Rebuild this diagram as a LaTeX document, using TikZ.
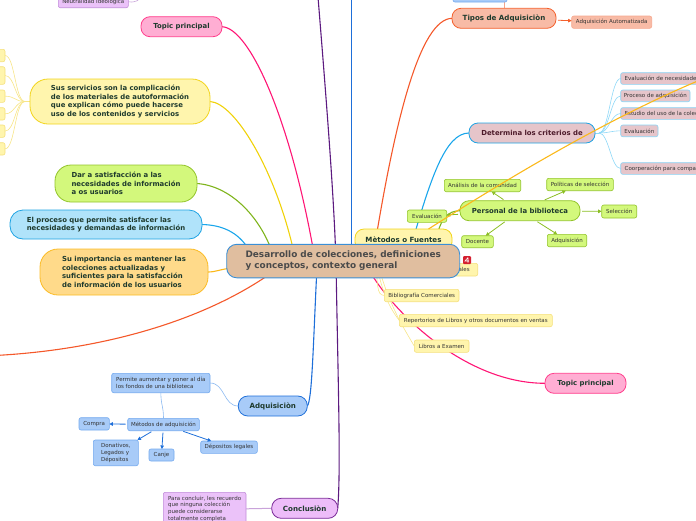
\documentclass[tikz,border=0pt]{standalone}
\usepackage{fontspec}
\setmainfont{DejaVu Sans}
\usetikzlibrary{arrows.meta,calc,backgrounds}
\definecolor{txt}{HTML}{1E3A2D}
\definecolor{smtxt}{HTML}{333333}
\definecolor{maroon}{HTML}{4D1A2A}
\definecolor{centtxt}{HTML}{4A4A4A}
\definecolor{purln}{HTML}{5C1A80}
\definecolor{blueln}{HTML}{1E6FD9}
\definecolor{redln}{HTML}{F4582A}
\definecolor{pinkln}{HTML}{FF1675}
\definecolor{yelln}{HTML}{F0D20A}
\definecolor{greenln}{HTML}{7FB41C}
\definecolor{lblueln}{HTML}{1AA6EB}
\definecolor{orln}{HTML}{FBB81A}
\definecolor{pinkfill}{HTML}{FFAED3}
\definecolor{yelfill}{HTML}{FFF5AD}
\definecolor{greenfill}{HTML}{D3F87C}
\definecolor{lbluefill}{HTML}{B0E3FA}
\definecolor{orfill}{HTML}{FFDA8A}
\definecolor{tanfill}{HTML}{E0BE9F}
\definecolor{salfill}{HTML}{F8BBA6}
\definecolor{rosefill}{HTML}{E6C5CA}
\definecolor{bluefill}{HTML}{A8CBF8}
\definecolor{purfill}{HTML}{EBC2F9}
\definecolor{purfilltwo}{HTML}{EDBDF9}
\definecolor{pinkbd}{HTML}{FF3D8B}
\definecolor{yelbd}{HTML}{F2D41C}
\definecolor{yelsmbd}{HTML}{F5E07C}
\definecolor{greenbd}{HTML}{93C42B}
\definecolor{lbluebd}{HTML}{1EA3E3}
\definecolor{orbd}{HTML}{FBBB24}
\definecolor{centbd}{HTML}{3A8FD6}
\definecolor{salbd}{HTML}{F4602C}
\definecolor{salsmbd}{HTML}{F6A88E}
\definecolor{rosebd}{HTML}{8AD4F5}
\definecolor{bluebd}{HTML}{1E6FD9}
\definecolor{bluesmbd}{HTML}{73A9EE}
\definecolor{purbd}{HTML}{7B2B99}
\definecolor{purbdsm}{HTML}{C18CD9}
\definecolor{yelthin}{HTML}{F7E588}
\definecolor{rosethin}{HTML}{8FD8F7}
\definecolor{bluethin}{HTML}{8CBAF1}
\definecolor{purthin}{HTML}{C9A3DA}
\definecolor{salthin}{HTML}{F5A58C}
\definecolor{greenarr}{HTML}{8BBE23}
\definecolor{iconred}{HTML}{D42030}
\begin{document}
\begin{tikzpicture}[x=1pt,y=-1pt,
  every node/.style={inner sep=0pt, outer sep=0pt},
  big/.style={draw, line width=0.8pt, font=\bfseries\fontsize{6.9}{8.4}\selectfont, text=txt, anchor=north west, align=left},
  bigger/.style={font=\bfseries\fontsize{7.1}{8.4}\selectfont},
  sm/.style={draw, line width=0.6pt, rounded corners=2pt, font=\fontsize{5.5}{6.8}\selectfont, text=smtxt, anchor=north west, align=left},
  mainln/.style={line width=1.1pt},
  thinln/.style={line width=0.6pt},
  arr/.style={-{Triangle[length=3.5pt,width=3.5pt]}, line width=0.8pt, shorten <=2pt},
]
\useasboundingbox (0,0) rectangle (696,520);

% ---------- nodes ----------
\node[sm, fill=purfill, draw=purbdsm, minimum width=70, minimum height=12] (neutral) at (58.3,-4.3) {Neutralidad Ideologica};
\node[big, fill=pinkfill, draw=pinkbd, rounded corners=9pt, minimum width=81, minimum height=20] (topic1) at (141,16.7) {Topic principal};
\node[big, fill=yelfill, draw=yelbd, rounded corners=18pt, minimum width=180, minimum height=45] (servicios) at (30,79) {Sus servicios son la complicación\\de los materiales de autoformación\\que explican cómo puede hacerse\\uso de los contenidos y servicios};
\foreach \i/\y/\h in {1/49.3/12.4,2/66.7/17.6,3/90/12.3,4/107.7/12.3,5/125/12.3,6/142.7/12.3}
  \node[sm, fill=yelfill, draw=yelsmbd, minimum width=35, minimum height=\h] (ly\i) at (-30,\y) {};
\node[big, fill=greenfill, draw=greenbd, rounded corners=16pt, minimum width=142, minimum height=37] (dar) at (55,165) {Dar a satisfacción a las\\necesidades de información\\a os usuarios};
\node[big, fill=lbluefill, draw=lbluebd, rounded corners=13pt, minimum width=192, minimum height=29] (proceso) at (10,210) {El proceso que permite satisfacer las\\necesidades y demandas de información};
\node[big, fill=orfill, draw=orbd, rounded corners=18pt, minimum width=168, minimum height=46] (importancia) at (40,249) {Su importancia es mantener las\\colecciones actualizadas y\\suficientes para la satisfacción\\de información de los usuarios};

\node[sm, fill=bluefill, draw=bluesmbd, minimum width=54, minimum height=12] (topblue) at (453,-10) {};
\node[big, bigger, fill=salfill, draw=salbd, rounded corners=9pt, minimum width=104, minimum height=20] (tipos) at (452,8.3) {Tipos de Adquisiciòn};
\node[sm, fill=salfill, draw=salsmbd, minimum width=80, minimum height=12.3] (autom) at (571.7,16) {Adquisición Automatizada};

\node[big, fill=rosefill, draw=lbluebd, rounded corners=9pt, minimum width=126, minimum height=20, text=maroon] (determina) at (469,123) {Determina los criterios de};
\node[sm, fill=rosefill, draw=rosebd, inner xsep=4pt, minimum height=11.6] (evnec) at (620.7,72.7) {Evaluación de necesidades};
\node[sm, fill=rosefill, draw=rosebd, minimum width=69.3, minimum height=11.7] (proc) at (620.7,90) {Proceso de adquisición};
\node[sm, fill=rosefill, draw=rosebd, inner xsep=4pt, minimum height=11.6] (estudio) at (620.7,107.7) {Estudio del uso de la colección};
\node[sm, fill=rosefill, draw=rosebd, minimum width=37.3, minimum height=11.7] (eval2) at (620.7,125) {Evaluación};
\node[sm, fill=rosefill, draw=rosebd, inner xsep=4pt, minimum height=11.6] (coop) at (620.7,162.7) {Coorperación para compartir};

\node[big, bigger, fill=yelfill, draw=yelbd, rounded corners=9pt, minimum width=97, minimum height=22] (metodos) at (355,229) {Mètodos o Fuentes};
\node[big, fill=greenfill, draw=greenbd, rounded corners=9pt, minimum width=120, minimum height=20] (personal) at (460,200.7) {Personal de la biblioteca};
\node[sm, fill=greenfill, draw=greenbd, minimum width=76.4, minimum height=12.4] (analisis) at (444.3,179.3) {Análisis de la comunidad};
\node[sm, fill=greenfill, draw=greenbd, minimum width=66.6, minimum height=12.4] (politicas) at (546.7,178.3) {Políticas de selección};
\node[sm, fill=greenfill, draw=greenbd, minimum width=35, minimum height=13] (seleccion) at (601.7,205) {Selección};
\node[sm, fill=greenfill, draw=greenbd, minimum width=39.4, minimum height=12.4] (adqtwo) at (547.3,234.3) {Adquisición};
\node[sm, fill=greenfill, draw=greenbd, minimum width=31.6, minimum height=12] (docente) at (461.7,235.7) {Docente};
\node[sm, fill=greenfill, draw=greenbd, minimum width=39.4, minimum height=12.3] (evalthree) at (407.3,210) {Evaluación};

\node[sm, fill=yelfill, draw=yelsmbd, anchor=north east, inner xsep=8pt, minimum height=12.7] (nales) at (477.7,263.3) {Bibliografías Nacionales};
\node[fill=iconred, minimum size=8pt, rounded corners=1pt, anchor=north west] (icon) at (463,256) {};
\draw[white, line width=0.6pt] ($(icon.center)+(1,-2.5)$) -- ($(icon.center)+(-2,1)$) -- ($(icon.center)+(2,1)$) ($(icon.center)+(1,-2.5)$) -- ($(icon.center)+(1,2.5)$);

\node[big, fill=tanfill, draw=centbd, rounded corners=10pt, minimum width=233, minimum height=33.5, font=\bfseries\fontsize{8.9}{11}\selectfont, text=centtxt, line width=0.9pt] (central) at (226.7,244.3) {Desarrollo de colecciones, definiciones\\y conceptos, contexto general};

\node[sm, fill=yelfill, draw=yelsmbd, minimum width=74.7, minimum height=12.4] (bibcom) at (384.3,289.3) {Bibliografía Comerciales};
\node[sm, fill=yelfill, draw=yelsmbd, minimum width=153, minimum height=12.4] (repert) at (399.3,314.3) {Repertorios de Libros y otros documentos en ventas};
\node[sm, fill=yelfill, draw=yelsmbd, minimum width=54.7, minimum height=12.3] (libros) at (414.3,340) {Libros a Examen};

\node[big, fill=pinkfill, draw=pinkbd, rounded corners=9pt, minimum width=81, minimum height=20] (topic2) at (545,373.3) {Topic principal};

\node[big, bigger, fill=bluefill, draw=bluebd, rounded corners=9.5pt, minimum width=69, minimum height=20] (adquisicion) at (238.3,396) {Adquisiciòn};
\node[sm, fill=bluefill, draw=bluesmbd, minimum width=98.3, minimum height=19.4] (permite) at (111.7,373.3) {Permite aumentar y poner al día\\los fondos de una biblioteca};
\node[sm, fill=bluefill, draw=bluesmbd, minimum width=71.6, minimum height=12.4] (metadq) at (127.7,418.3) {Métodos de adquisición};
\node[sm, fill=bluefill, draw=bluesmbd, minimum width=30.3, minimum height=12.3] (compra) at (79,417.7) {Compra};
\node[sm, fill=bluefill, draw=bluesmbd, minimum width=45, minimum height=25.7] (donativos) at (93.3,440) {Donativos,\\Legados y\\Dépositos};
\node[sm, fill=bluefill, draw=bluesmbd, minimum width=25, minimum height=12] (canje) at (149,449) {Canje};
\node[sm, fill=bluefill, draw=bluesmbd, minimum width=56.6, minimum height=12.3] (deplegales) at (200.7,441) {Dépositos legales};

\node[big, bigger, fill=purfilltwo, draw=purbd, rounded corners=9.5pt, minimum width=66, minimum height=20] (conclusion) at (271.7,498.3) {Conclusiòn};
\node[sm, fill=purfill, draw=purbdsm, minimum width=82.7, minimum height=33] (concluir) at (163.3,492.3) {Para concluir, les recuerdo\\que ninguna colección\\puede considerarse\\totalmente completa};

% free ends
\coordinate (ptop) at (318,-3);
\coordinate (btop) at (351.5,-3);
\coordinate (rleft) at (-5,355.5);
\coordinate (ntop) at (142,-4);
\coordinate (oend) at (700,80);

% ---------- connectors (behind) ----------
\begin{scope}[on background layer]
\draw[mainln, purln] (ptop) .. controls (328,120) and (334,200) .. (336,262) .. controls (338,380) and (341,470) .. (conclusion.east);
\draw[mainln, blueln] (btop) -- (btop |- central.north);
\draw[mainln, blueln] ($(central.south west)+(90,-5)$) .. controls (313,350) and (312,400) .. (adquisicion.east);
\draw[mainln, redln] ($(central.north)+(31,5)$) .. controls (395,120) and (420,19) .. (tipos.west);
\draw[mainln, redln] ($(central.south west)+(42,-3)$) .. controls (200,322) and (100,350) .. (rleft);
\draw[mainln, pinkln] (topic1.east) .. controls (250,28) and (290,120) .. ($(central.north)+(-30,5)$);
\draw[mainln, pinkln] ($(central.south)+(28,-4)$) .. controls (400,320) and (470,383.3) .. (topic2.west);
\draw[mainln, yelln] (servicios.east) .. controls (235,103) and (275,170) .. ($(central.north)+(-50,5)$);
\draw[mainln, greenln] (dar.east) .. controls (230,186) and (258,215) .. ($(central.north)+(-72,5)$);
\draw[mainln, lblueln] (proceso.east) .. controls (222,225) and (238,232) .. ($(central.north west)+(22,5)$);
\draw[mainln, orln] (importancia.east) .. controls (216,272) and (221,269) .. ($(central.west)+(5,7)$);
\draw[mainln, lblueln] ($(central.north)+(67,5)$) .. controls (430,180) and (445,133) .. (determina.west);
\draw[mainln, greenln] ($(metodos.north east)+(-14,3)$) .. controls (442,218) and (448,211) .. (personal.west);

\draw[thinln, yelthin] (servicios.west) -- ++(-5,0) coordinate (svf);
\foreach \i in {1,...,6} \draw[thinln, yelthin] (svf) .. controls +(-10,0) and +(10,0) .. (ly\i.east);
\draw[thinln, rosethin] (determina.east) -- ++(4,0) coordinate (df);
\foreach \n in {evnec,proc,estudio,eval2,coop} \draw[thinln, rosethin] (df) .. controls +(10,0) and +(-10,0) .. (\n.west);

\coordinate (mf) at ($(metodos.south west)+(20,0)$);
\draw[thinln, yelthin] (mf) .. controls (378,285) and (376,295) .. (bibcom.west);
\draw[thinln, yelthin] (mf) .. controls (380,295) and (393,312) .. (repert.west);
\draw[thinln, yelthin] (mf) .. controls (385,300) and (405,330) .. (libros.west);
\draw[thinln, yelthin] (mf) -- (nales.west);

\draw[thinln, bluethin] (permite.east) .. controls +(15,0) and +(-15,0) .. (adquisicion.west);
\draw[thinln, bluethin] (permite.south) .. controls +(0,12) and +(0,-12) .. (metadq.north);
\draw[line width=1pt, purthin] (concluir.east) -- (conclusion.west);
\draw[thinln, purthin] (neutral.east) .. controls (136,3) and (139,0) .. (ntop);
\draw[line width=0.8pt, salthin] ($(topblue.south east)+(-3,0)$) -- ($(tipos.north west)+(52,0)$);
\end{scope}

% ---------- arrows (front) ----------
\draw[arr, greenarr] (personal) -- (analisis);
\draw[arr, greenarr] (personal) -- (politicas);
\draw[arr, greenarr] (personal) -- (seleccion);
\draw[arr, greenarr] (personal) -- (adqtwo);
\draw[arr, greenarr] (personal) -- (docente);
\draw[arr, greenarr] (personal) -- (evalthree);
\draw[arr, salbd] (tipos) -- (autom);
\draw[arr, bluebd] (metadq) -- (compra);
\draw[arr, bluebd] (metadq) -- (donativos);
\draw[arr, bluebd] (metadq) -- (canje);
\draw[arr, bluebd] (metadq) -- (deplegales);

\draw[line width=1.1pt, orln] ($(metodos.north)+(25,0)$) .. controls (518,172) and (610,118) .. (oend);
\end{tikzpicture}
\end{document}
